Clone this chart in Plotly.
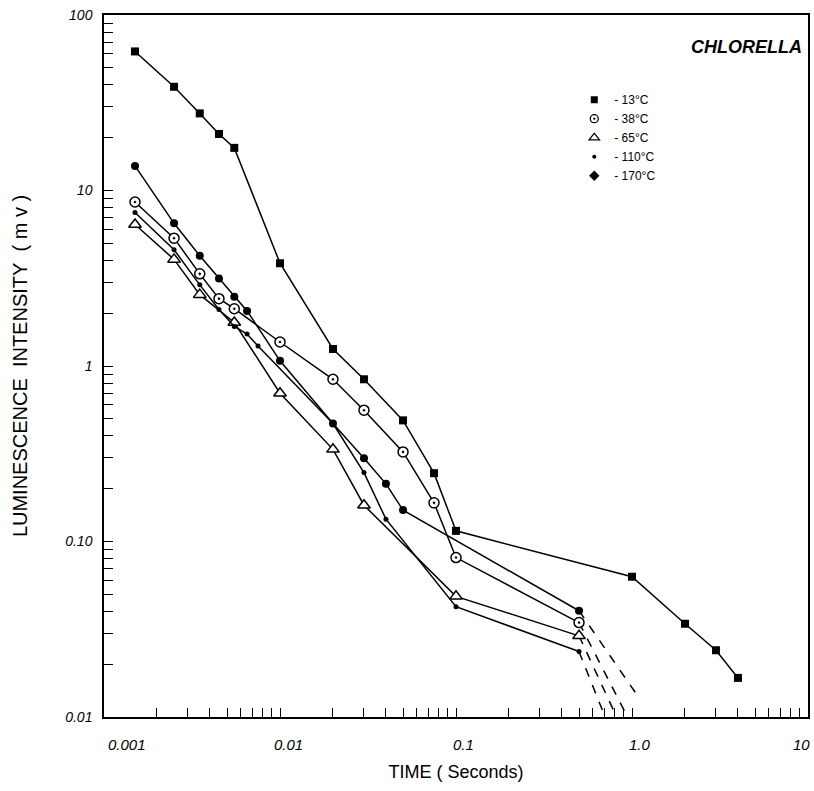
import math
import plotly.graph_objects as go

# ---------------- data ----------------
t_13 = [0.0015, 0.0025, 0.0035, 0.0045, 0.0055, 0.01, 0.02, 0.03, 0.05, 0.075, 0.1, 1.0, 2.0, 3.0, 4.0]
v_13 = [62, 39, 27.5, 21, 17.5, 3.85, 1.25, 0.84, 0.49, 0.245, 0.115, 0.063, 0.034, 0.024, 0.0167]

t_38 = [0.0015, 0.0025, 0.0035, 0.0045, 0.0055, 0.01, 0.02, 0.03, 0.05, 0.075, 0.1, 0.5]
v_38 = [8.6, 5.35, 3.35, 2.42, 2.12, 1.37, 0.84, 0.56, 0.324, 0.166, 0.081, 0.0345]

t_65 = [0.0015, 0.0025, 0.0035, 0.0055, 0.01, 0.02, 0.03, 0.1, 0.5]
v_65 = [6.4, 4.05, 2.55, 1.77, 0.70, 0.335, 0.161, 0.0487, 0.029]

t_110 = [0.0015, 0.0025, 0.0035, 0.0045, 0.0055, 0.0065, 0.0075, 0.02, 0.03, 0.04, 0.1, 0.5]
v_110 = [7.5, 4.6, 2.9, 2.1, 1.68, 1.52, 1.3, 0.47, 0.247, 0.134, 0.0425, 0.0236]

t_170 = [0.0015, 0.0025, 0.0035, 0.0045, 0.0055, 0.0065, 0.01, 0.02, 0.03, 0.04, 0.05, 0.5]
v_170 = [13.8, 6.5, 4.25, 3.15, 2.48, 2.06, 1.07, 0.47, 0.298, 0.213, 0.151, 0.0403]

# dashed extrapolations (start at last point, end near axis)
ext_170_t = [0.5, 1.06]
ext_170_v = [0.0403, 0.0135]
ext_38_t = [0.5, 0.92]
ext_38_v = [0.0345, 0.0105]
ext_65_t = [0.5, 0.80]
ext_65_v = [0.029, 0.0105]
ext_110_t = [0.5, 0.69]
ext_110_v = [0.0236, 0.0105]

legend_labels = ["- 13°C", "- 38°C", "- 65°C", "- 110°C", "- 170°C"]

x_major = [0.001, 0.01, 0.1, 1, 10]
x_major_labels = ["0.001", "0.01", "0.1", "1.0", "10"]
y_major = [0.01, 0.1, 1, 10, 100]
y_major_labels = ["0.01", "0.10", "1", "10", "100"]

x_title = "TIME ( Seconds)"
y_title = "LUMINESCENCE\u00a0 INTENSITY\u00a0 (\u00a0m\u00a0v\u00a0)"
plot_title = "CHLORELLA"

# ---------------- figure ----------------
FONT = "Liberation Sans"
fig = go.Figure()

line = dict(color="black", width=1.5)
dash = dict(color="black", width=1.5, dash="dash")

for et, ev in [(ext_170_t, ext_170_v), (ext_38_t, ext_38_v), (ext_65_t, ext_65_v), (ext_110_t, ext_110_v)]:
    fig.add_trace(go.Scatter(x=et, y=ev, mode="lines", line=dash, showlegend=False, hoverinfo="skip"))

fig.add_trace(go.Scatter(x=t_13, y=v_13, mode="lines+markers", line=line, showlegend=False,
                         marker=dict(symbol="square", size=8, color="black")))
fig.add_trace(go.Scatter(x=t_38, y=v_38, mode="lines+markers", line=line, showlegend=False,
                         marker=dict(symbol="circle-dot", size=10, color="white",
                                     line=dict(color="black", width=1.5))))
fig.add_trace(go.Scatter(x=t_65, y=v_65, mode="lines+markers", line=line, showlegend=False,
                         marker=dict(symbol="triangle-up", size=11, color="white",
                                     line=dict(color="black", width=1.5))))
fig.add_trace(go.Scatter(x=t_170, y=v_170, mode="lines+markers", line=line, showlegend=False,
                         marker=dict(symbol="circle", size=8, color="black")))
fig.add_trace(go.Scatter(x=t_110, y=v_110, mode="lines+markers", line=line, showlegend=False,
                         marker=dict(symbol="circle", size=5, color="black")))

# legend-only entries
leg_markers = [
    dict(symbol="square", size=7, color="black"),
    dict(symbol="circle-dot", size=8, color="white", line=dict(color="black", width=1.3)),
    dict(symbol="triangle-up", size=9, color="white", line=dict(color="black", width=1.3)),
    dict(symbol="circle", size=4, color="black"),
    dict(symbol="diamond", size=8, color="black"),
]
for lab, mk in zip(legend_labels, leg_markers):
    fig.add_trace(go.Scatter(x=[None], y=[None], mode="markers", marker=mk, name=lab, showlegend=True))


def log_ticks(lo_exp, hi_exp):
    vals = []
    for e in range(lo_exp, hi_exp + 1):
        for k in range(1, 10):
            if e == hi_exp and k > 1:
                break
            vals.append(k * 10.0 ** e)
    return vals


def is_major(v, majors):
    return any(abs(v - m) / m < 1e-9 for m in majors)


xv = log_ticks(-3, 1)
yv = log_ticks(-2, 2)
yt = []
for v in yv:
    if is_major(v, y_major):
        m = min(y_major, key=lambda q: abs(q - v))
        yt.append(y_major_labels[y_major.index(m)])
    else:
        yt.append("")

fig.update_xaxes(type="log", range=[-3, 1], showgrid=False, zeroline=False,
                 showline=True, linecolor="black", linewidth=1.5, mirror=True,
                 ticks="inside", ticklen=9, tickwidth=1.2, tickcolor="black",
                 tickvals=xv, ticktext=[""] * len(xv),
                 title=dict(text=x_title, font=dict(family=FONT, size=18, color="black"), standoff=45))
fig.update_yaxes(type="log", range=[-2, 2], showgrid=False, zeroline=False,
                 showline=True, linecolor="black", linewidth=1.5, mirror=True,
                 ticks="inside", ticklen=9, tickwidth=1.2, tickcolor="black",
                 tickvals=yv, ticktext=yt, ticklabelstandoff=7,
                 tickfont=dict(family=FONT, size=14, color="black", style="italic"),
                 title=dict(text=y_title, font=dict(family=FONT, size=20, color="black"), standoff=32))

# x tick labels (hand-lettered: end labels pulled inside the frame)
x_label_shift = [23, 8, 7, 8, -7]
for xm, lab, sh in zip(x_major, x_major_labels, x_label_shift):
    fig.add_annotation(text=lab, x=math.log10(xm), xref="x", y=0, yref="paper", showarrow=False,
                       xanchor="center", yanchor="middle", xshift=sh, yshift=-27,
                       font=dict(family=FONT, size=15, color="black", style="italic"))

fig.add_annotation(text=plot_title, xref="paper", yref="paper", x=0.912, y=0.955,
                   xanchor="center", yanchor="middle", showarrow=False,
                   font=dict(family=FONT, size=18, color="black", style="italic", weight="bold"))

fig.update_layout(
    width=814, height=791,
    margin=dict(l=104, r=4, t=15, b=74),
    paper_bgcolor="white", plot_bgcolor="white",
    showlegend=True,
    legend=dict(x=0.668, y=0.9, xanchor="left", yanchor="top", bgcolor="rgba(0,0,0,0)",
                font=dict(family=FONT, size=12, color="black"), itemwidth=30,
                tracegroupgap=0),
)

fig.write_html("out.html", config={"displayModeBar": False},
               post_script="document.body.style.margin='0px';document.body.style.overflow='hidden';")
